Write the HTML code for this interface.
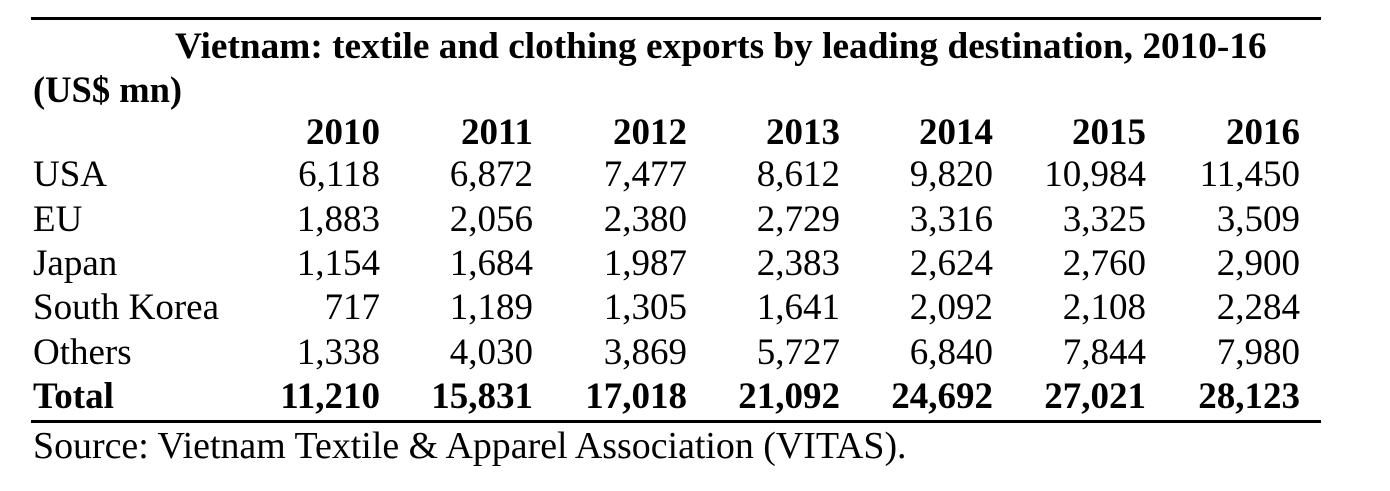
<!DOCTYPE html>
<html><head><style>
body{margin:0;width:1390px;height:491px;background:#fff;position:relative;font-family:"Liberation Serif",serif;color:#000;overflow:hidden}
.l{position:absolute;height:44px;line-height:44px;font-size:37px;white-space:nowrap}
.r{text-align:right;width:200px}
.b{font-weight:bold}
.hr{position:absolute;left:31px;width:1290px;height:3px;background:#000}
</style></head><body>
<div class="hr" style="top:17px"></div>
<div class="hr" style="top:420px"></div>
<div class="l b" style="left:175px;top:25px;font-size:37.3px">Vietnam: textile and clothing exports by leading destination, 2010-16</div>
<div class="l b" style="left:33px;top:68px;font-size:36.5px">(US$ mn)</div>
<div id="t"></div>
<div class="l" style="left:33px;top:424px;font-size:37.9px">Source: Vietnam Textile &amp; Apparel Association (VITAS).</div>
<script>
var rows=[["","2010","2011","2012","2013","2014","2015","2016",1],
["USA","6,118","6,872","7,477","8,612","9,820","10,984","11,450"],
["EU","1,883","2,056","2,380","2,729","3,316","3,325","3,509"],
["Japan","1,154","1,684","1,987","2,383","2,624","2,760","2,900"],
["South Korea","717","1,189","1,305","1,641","2,092","2,108","2,284"],
["Others","1,338","4,030","3,869","5,727","6,840","7,844","7,980"],
["Total","11,210","15,831","17,018","21,092","24,692","27,021","28,123",1]];
var xs=[380,533,687,840,993,1146,1300],h="";
rows.forEach(function(r,i){var base=i==0?145:187+(i-1)*44.3;var top=Math.round(base-33.7),b=r[8]||i==6?" b":"";
h+='<div class="l'+b+'" style="left:33px;top:'+top+'px">'+r[0]+'</div>';
for(var j=1;j<8;j++)h+='<div class="l r'+b+'" style="left:'+(xs[j-1]-200)+'px;top:'+top+'px">'+r[j]+'</div>';});
document.getElementById("t").innerHTML=h;
</script>
</body></html>
